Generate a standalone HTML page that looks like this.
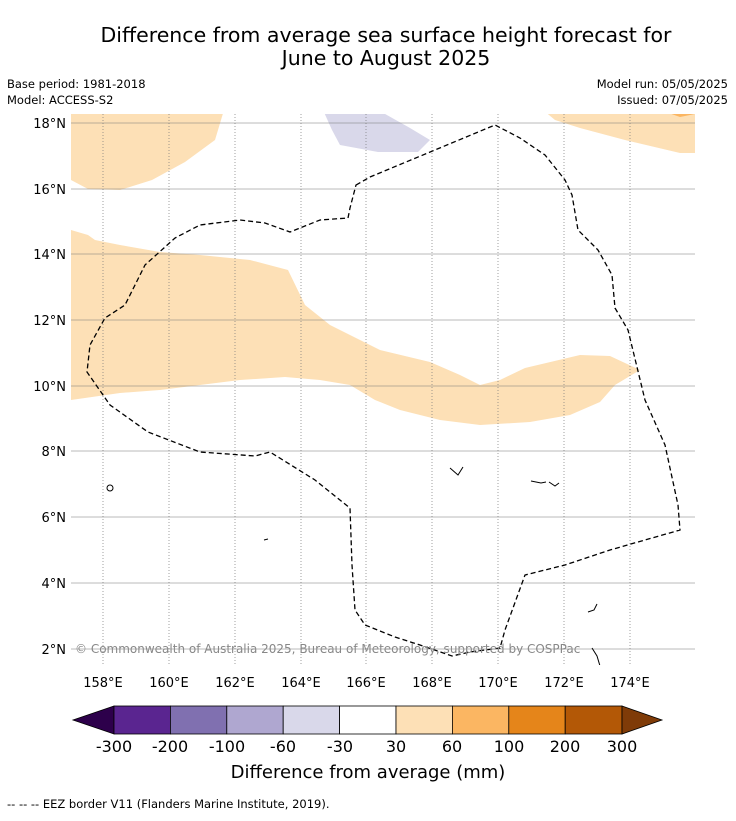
<!DOCTYPE html>
<html><head><meta charset="utf-8"><style>
body{margin:0;background:#fff;font-family:"Liberation Sans","DejaVu Sans",sans-serif}
</style></head><body>
<svg width="736" height="816" viewBox="0 0 736 816" xmlns="http://www.w3.org/2000/svg" font-family="DejaVu Sans, Liberation Sans, sans-serif">
<text x="386" y="42" font-size="20.5" text-anchor="middle">Difference from average sea surface height forecast for</text>
<text x="386" y="65" font-size="20.5" text-anchor="middle">June to August 2025</text>
<text x="7" y="88" font-size="11.5">Base period: 1981-2018</text>
<text x="7" y="104" font-size="11.5">Model: ACCESS-S2</text>
<text x="728" y="88" font-size="11.5" text-anchor="end">Model run: 05/05/2025</text>
<text x="728" y="104" font-size="11.5" text-anchor="end">Issued: 07/05/2025</text>
<defs><clipPath id="mc"><rect x="71" y="114" width="624" height="551"/></clipPath></defs>
<g clip-path="url(#mc)">
<polygon fill="#fde0b6" points="71,110 224,110 215,140 185,162 152,180 120,190 88,189 71,180"/>
<polygon fill="#fde0b6" points="543,110 695,110 695,153 680,153 625,140 580,128 555,120"/>
<polygon fill="#fbb662" points="660,110 695,110 695,114 680,117"/>
<polygon fill="#d9d8ea" points="323,110 378,110 410,128 430,140 418,152 378,152 340,145 332,130"/>
<polygon fill="#fde0b6" points="71,230 88,235 95,240 120,245 160,252 200,255 250,260 288,270 305,305 330,325 380,350 430,362 460,375 480,385 500,380 525,368 580,355 610,356 640,370 615,385 600,402 570,415 530,422 480,425 440,420 400,410 375,400 350,385 320,380 285,377 240,380 200,385 160,390 120,393 71,400"/>
<g stroke="#777" stroke-width="0.7" stroke-dasharray="1,2">
<line x1="103" y1="114" x2="103" y2="665"/><line x1="169" y1="114" x2="169" y2="665"/><line x1="235" y1="114" x2="235" y2="665"/><line x1="301" y1="114" x2="301" y2="665"/><line x1="366" y1="114" x2="366" y2="665"/><line x1="432" y1="114" x2="432" y2="665"/><line x1="498" y1="114" x2="498" y2="665"/><line x1="564" y1="114" x2="564" y2="665"/><line x1="630" y1="114" x2="630" y2="665"/>
</g>
<g stroke="#777" stroke-width="0.5">
<line x1="71" y1="123" x2="695" y2="123"/><line x1="71" y1="189" x2="695" y2="189"/><line x1="71" y1="254" x2="695" y2="254"/><line x1="71" y1="320" x2="695" y2="320"/><line x1="71" y1="386" x2="695" y2="386"/><line x1="71" y1="451" x2="695" y2="451"/><line x1="71" y1="517" x2="695" y2="517"/><line x1="71" y1="583" x2="695" y2="583"/><line x1="71" y1="649" x2="695" y2="649"/>
</g>
<polygon fill="none" stroke="#000" stroke-width="1.3" stroke-dasharray="5,3" points="356,185 370,177 495,125 520,138 545,155 565,180 572,195 578,230 598,250 612,275 615,308 628,330 645,400 665,445 678,505 680,530 610,550 565,565 525,575 505,630 500,648 470,652 452,656 420,645 395,637 365,625 355,610 352,565 350,508 315,480 270,452 255,456 200,452 148,432 110,405 87,372 90,345 105,318 125,305 145,265 175,238 200,225 240,220 265,223 290,232 320,220 348,218 350,208"/>
<g fill="none" stroke="#000" stroke-width="1">
<ellipse cx="110" cy="488" rx="3" ry="3"/><path d="M531 481 l10 2 l5 -1 M549 482 l6 4 l4 -3 M450 468 l8 7 l5 -8 M592 648 l5 8 l3 10 M588 612 l6 -2 l3 -6 M264 540 l4 -1"/>
</g>
<text x="75" y="653" font-size="12" fill="#888">© Commonwealth of Australia 2025, Bureau of Meteorology, supported by COSPPac</text>
</g>
<g font-size="13" text-anchor="middle">
<text x="103" y="687">158°E</text><text x="169" y="687">160°E</text><text x="235" y="687">162°E</text><text x="301" y="687">164°E</text><text x="366" y="687">166°E</text><text x="432" y="687">168°E</text><text x="498" y="687">170°E</text><text x="564" y="687">172°E</text><text x="630" y="687">174°E</text>
</g>
<g font-size="13" text-anchor="end">
<text x="66" y="128">18°N</text><text x="66" y="194">16°N</text><text x="66" y="259">14°N</text><text x="66" y="325">12°N</text><text x="66" y="391">10°N</text><text x="66" y="456">8°N</text><text x="66" y="522">6°N</text><text x="66" y="588">4°N</text><text x="66" y="654">2°N</text>
</g>
<g stroke="#000" stroke-width="0.8">
<polygon points="114,706 73,720 114,734" fill="#2d004b"/>
<rect x="114" y="706" width="56.4" height="28" fill="#5a2590"/>
<rect x="170.4" y="706" width="56.4" height="28" fill="#8070b0"/>
<rect x="226.8" y="706" width="56.4" height="28" fill="#afa7d0"/>
<rect x="283.2" y="706" width="56.4" height="28" fill="#d9d8ea"/>
<rect x="339.6" y="706" width="56.4" height="28" fill="#ffffff"/>
<rect x="396" y="706" width="56.4" height="28" fill="#fde0b6"/>
<rect x="452.4" y="706" width="56.4" height="28" fill="#fbb662"/>
<rect x="508.8" y="706" width="56.4" height="28" fill="#e5851a"/>
<rect x="565.2" y="706" width="56.8" height="28" fill="#b35806"/>
<polygon points="622,706 662,720 622,734" fill="#7f3b08"/>
</g>
<g font-size="16" text-anchor="middle">
<text x="114" y="752">-300</text><text x="170" y="752">-200</text><text x="227" y="752">-100</text><text x="283" y="752">-60</text><text x="340" y="752">-30</text><text x="396" y="752">30</text><text x="452" y="752">60</text><text x="509" y="752">100</text><text x="565" y="752">200</text><text x="622" y="752">300</text>
</g>
<text x="368" y="778" font-size="18" text-anchor="middle">Difference from average (mm)</text>
<text x="7" y="808" font-size="11.5">--  --  -- EEZ border V11 (Flanders Marine Institute, 2019).</text>
</svg>
</body></html>
